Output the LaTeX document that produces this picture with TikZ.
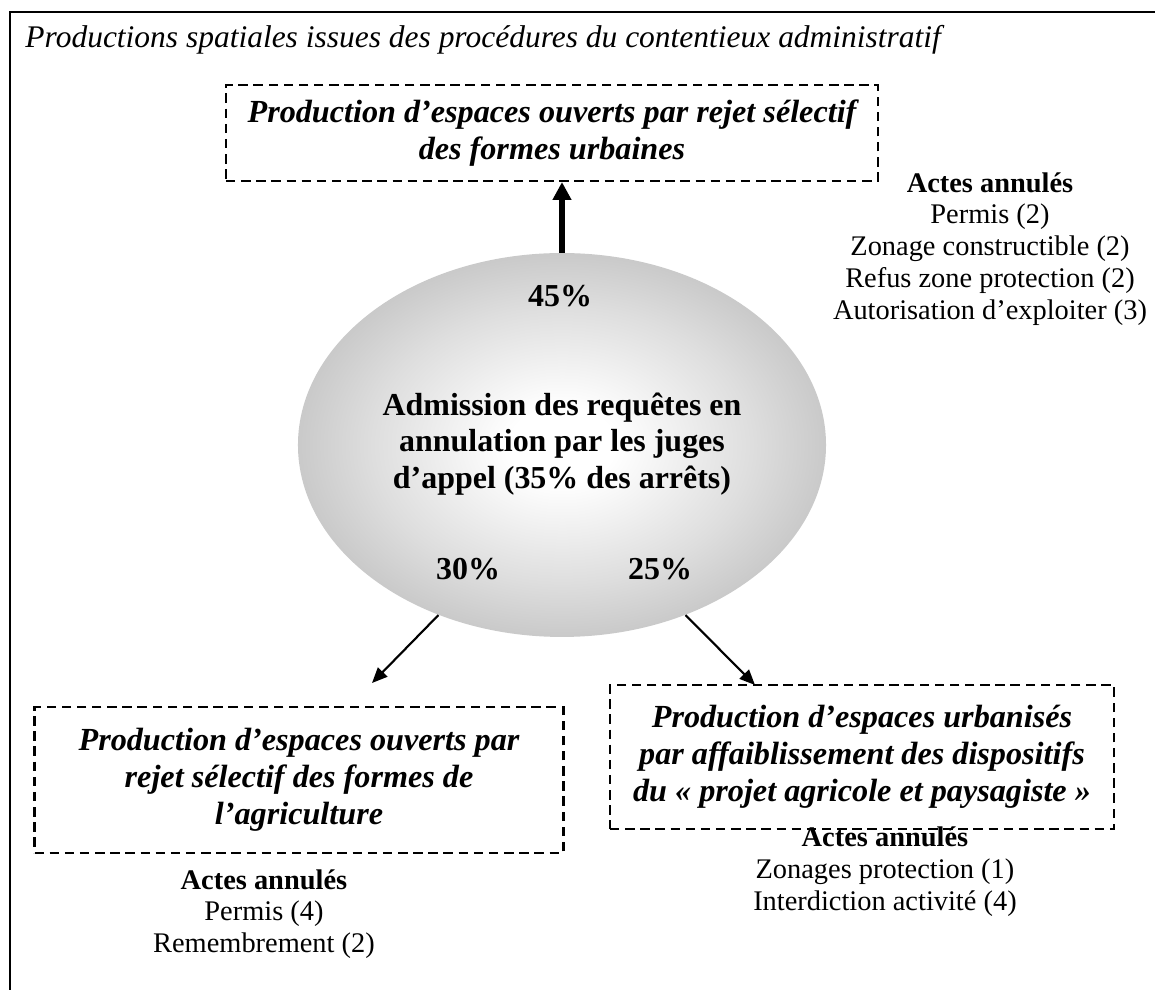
\documentclass[tikz,border=0pt]{standalone}
\usepackage{fontspec}
\setmainfont{Liberation Serif}
\usepackage{tikz}
\usetikzlibrary{positioning,arrows.meta,shapes.geometric}
\pgfdeclareradialshading{ovalshade}{\pgfpointorigin}{color(0bp)=(white); color(5bp)=(white); color(18bp)=(black!13); color(25bp)=(black!21); color(50bp)=(black!21)}

\begin{document}
\begin{tikzpicture}[x=0.4225pt, y=-0.4225pt,
  ttl/.style={font=\fontsize{13.3}{16}\selectfont\itshape, inner sep=0pt, anchor=base west},
  prod/.style={draw, dash pattern=on 4pt off 2.4pt, line width=0.85pt, align=center, inner sep=0pt, font=\fontsize{13.6}{15.6}\selectfont\bfseries\itshape},
  oval/.style={ellipse, inner sep=0pt, minimum width=223.1pt, minimum height=162.2pt, shade, shading=ovalshade},
  mid/.style={align=center, inner sep=0pt, font=\fontsize{13.5}{15.3}\selectfont\bfseries},
  pct/.style={inner sep=0pt, font=\fontsize{13.5}{15.3}\selectfont\bfseries},
  acts/.style={align=center, inner sep=0pt, font=\fontsize{12}{13.4}\selectfont},
  bigarr/.style={-{Triangle[length=7.5pt, width=7.5pt]}, line width=2.5pt},
  arr/.style={-{Triangle[length=6.5pt, width=5.5pt]}, line width=0.9pt}]
\useasboundingbox (0,0) rectangle (1155,990);
\fill[white] (0,0) rectangle (1155,990);
\draw[line width=1pt] (1155,12) -| (10,990);
\node[ttl] (ttl) at (25,48) {Productions spatiales issues des procédures du contentieux administratif};
\node[oval] (ell) at (562,445) {};
\node[mid] (adm) at (562,444) {Admission des requêtes en\\annulation par les juges\\d’appel (35\% des arrêts)};
\node[pct] (p45) at (560,296) {45\%};
\node[pct] (p30) at (468,569) {30\%};
\node[pct] (p25) at (660,569) {25\%};
\node[prod, minimum width=275.5pt, minimum height=40.6pt] (urb) at (552,133) {Production d’espaces ouverts par rejet sélectif\\des formes urbaines};
\node[prod, minimum width=223.5pt, minimum height=61.3pt] (agr) at (299,780) {Production d’espaces ouverts par\\rejet sélectif des formes de\\l’agriculture};
\node[prod, minimum width=213pt, minimum height=60.8pt] (urbz) at (862,757) {Production d’espaces urbanisés\\par affaiblissement des dispositifs\\du « projet agricole et paysagiste »};
\node[acts, anchor=north] (actsurb) at (990,172) {\textbf{Actes annulés}\\Permis (2)\\Zonage constructible (2)\\Refus zone protection (2)\\Autorisation d’exploiter (3)};
\node[acts, below=6.5pt of agr, xshift=-14.8pt] (actsagr) {\textbf{Actes annulés}\\Permis (4)\\Remembrement (2)};
\node[acts, below=-1.5pt of urbz, xshift=9.7pt] (actsurbz) {\textbf{Actes annulés}\\Zonages protection (1)\\Interdiction activité (4)};
\coordinate (agrtip) at (372,683);
\coordinate (urbztip) at (755,685);
\draw[bigarr] (ell.north) -- (ell.north |- urb.south);
\draw[arr] (ell.234) -- (agrtip);
\draw[arr] (ell.-54) -- (urbztip);
\end{tikzpicture}
\end{document}
